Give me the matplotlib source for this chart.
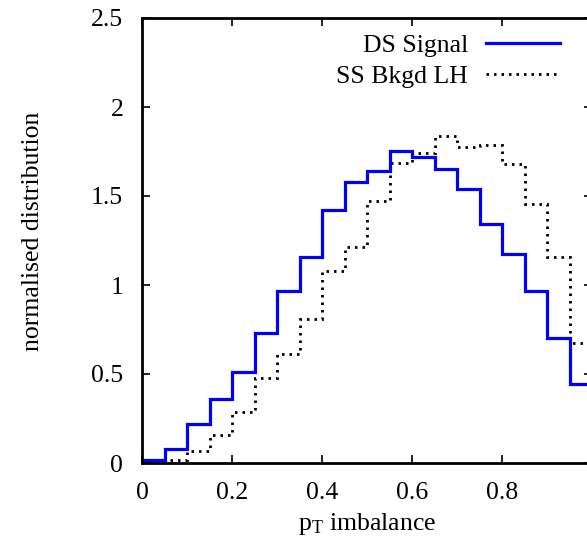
import numpy as np
import matplotlib
matplotlib.use('Agg')
import matplotlib.pyplot as plt
from matplotlib.ticker import FuncFormatter
from matplotlib.lines import Line2D

plt.rcParams['font.family'] = 'Liberation Serif'
plt.rcParams['mathtext.fontset'] = 'custom'
plt.rcParams['mathtext.rm'] = 'Liberation Serif'
plt.rcParams['mathtext.it'] = 'Liberation Serif:italic'
plt.rcParams['font.size'] = 18.5

# bin edges, 20 bins of 0.05
edges = np.linspace(0, 1, 21)

# DS Signal
signal = [0.017, 0.08, 0.217, 0.36, 0.51, 0.73, 0.966, 1.156, 1.42, 1.577,
          1.64, 1.755, 1.717, 1.65, 1.537, 1.34, 1.174, 0.968, 0.704, 0.444]

# SS Bkgd LH
bkgd = [0.005, 0.017, 0.067, 0.156, 0.285, 0.476, 0.612, 0.807, 1.079, 1.215,
        1.472, 1.684, 1.74, 1.839, 1.773, 1.787, 1.678, 1.455, 1.156, 0.672]

xticks = [0, 0.2, 0.4, 0.6, 0.8]
yticks = [0, 0.5, 1, 1.5, 2, 2.5]

fig = plt.figure(figsize=(5.87, 5.48), dpi=100)
ax = fig.add_axes([142/587, 1 - 463/548, 450/587, 445/548])

ax.stairs(bkgd, edges, baseline=None, color='black', linewidth=2,
          linestyle=(0, (0.9, 1.8)))
ax.stairs(signal, edges, baseline=None, color='#0000ff', linewidth=2.3)

ax.set_xlim(0, 1)
ax.set_ylim(0, 2.5)
ax.set_xticks(xticks)
ax.set_yticks(yticks)
fmt = FuncFormatter(lambda v, p: '%g' % v)
ax.xaxis.set_major_formatter(fmt)
ax.yaxis.set_major_formatter(fmt)
ax.tick_params(direction='in', length=6, width=1.2, top=True, right=True)
ax.tick_params(axis='x', pad=14)
ax.tick_params(axis='y', pad=13.5)
for s in ax.spines.values():
    s.set_linewidth(2)

ax.set_xlabel(r'p$_\mathrm{T}$ imbalance', labelpad=5)
ax.set_ylabel('normalised distribution', labelpad=34)
ax.yaxis.label.set_y(0.521)

handles = [Line2D([], [], color='#0000ff', linewidth=2.3),
           Line2D([], [], color='black', linewidth=2, linestyle=(0, (0.9, 1.8)))]
ax.legend(handles, ['DS Signal', 'SS Bkgd LH'], frameon=False,
          markerfirst=False, loc='upper right', bbox_to_anchor=(0.981, 1.016),
          handlelength=2.9, labelspacing=0.3, handletextpad=0.7)

fig.savefig('out.png', dpi=100)
